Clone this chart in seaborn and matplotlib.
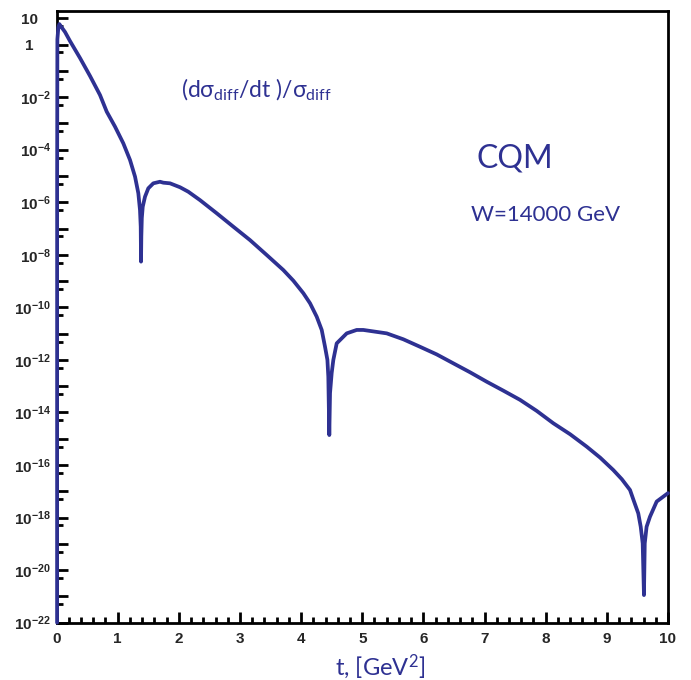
import numpy as np
import pandas as pd
import seaborn as sns
import matplotlib
matplotlib.use("Agg")
import matplotlib.pyplot as plt
from matplotlib.ticker import FixedLocator, FixedFormatter

# ---- data ----
t_values = [0.009, 0.010, 0.014, 0.03, 0.046, 0.07, 0.139, 0.22, 0.384, 0.548, 0.711,
            0.821, 0.957, 1.092, 1.202, 1.284, 1.338, 1.365, 1.377, 1.382,
            1.387, 1.395, 1.410, 1.447, 1.501, 1.583, 1.692, 1.747, 1.856, 2.020,
            2.155, 2.347, 2.620, 2.891, 3.164, 3.437, 3.709, 3.873, 4.036, 4.146,
            4.255, 4.337, 4.391, 4.43, 4.445, 4.461,
            4.473, 4.50, 4.527, 4.582, 4.69, 4.746, 4.909, 5.017, 5.40, 5.671, 5.944,
            6.217, 6.489, 6.762, 7.035, 7.307, 7.58, 7.853, 8.124, 8.40, 8.67, 8.891,
            9.105, 9.245, 9.379, 9.436, 9.514, 9.554, 9.586,
            9.607, 9.62, 9.65, 9.705, 9.815, 10.0]
log10_dsigma = [-22.0, -5.0, 0.2, 0.65, 0.78, 0.70, 0.479, 0.136, -0.511, -1.196, -1.919,
                -2.554, -3.125, -3.757, -4.393, -5.027, -5.659, -6.295, -6.93, -8.26,
                -7.3, -6.6, -6.17, -5.79, -5.47, -5.28, -5.22, -5.256, -5.28, -5.43,
                -5.60, -5.92, -6.42, -6.93, -7.44, -8.007, -8.58, -8.985, -9.46, -9.845,
                -10.355, -10.86, -11.50, -12.0, -12.64, -14.86,
                -13.26, -12.5, -12.0, -11.37, -11.12, -10.99, -10.86, -10.86, -10.99, -11.215, -11.50,
                -11.79, -12.13, -12.47, -12.83, -13.17, -13.52, -13.94, -14.41, -14.83, -15.30, -15.72,
                -16.19, -16.54, -16.95, -17.33, -17.84, -18.35, -18.98,
                -20.95, -18.98, -18.35, -17.97, -17.39, -17.07]
xtick_labels = ["0", "1", "2", "3", "4", "5", "6", "7", "8", "9", "10"]

df = pd.DataFrame({"t": t_values, "y": np.power(10.0, log10_dsigma)})

sns.set_style("white")
plt.rcParams["mathtext.default"] = "regular"
plt.rcParams["font.family"] = ["Liberation Sans", "DejaVu Sans"]

blue = "#2e3192"
fig = plt.figure(figsize=(6.91, 6.80), dpi=100)
ax = fig.add_axes([0.0818, 0.0843, 0.9667 - 0.0818, 0.9843 - 0.0843])

sns.lineplot(data=df, x="t", y="y", ax=ax, color=blue, lw=2.7,
             sort=False, estimator=None, zorder=3, clip_on=False)
ax.set_yscale("log")
ax.set_xlim(0, 10)
ax.set_ylim(1e-22, 10 ** 1.29)

# y ticks
major_y = [10.0 ** e for e in range(-22, 2)]
ylabels = []
for e in range(-22, 2):
    if e == 1:
        ylabels.append("10   ")
    elif e == 0:
        ylabels.append("1    ")
    elif e % 2 == 0:
        ylabels.append(r"$10^{%d}$" % e)
    else:
        ylabels.append("")
ax.yaxis.set_major_locator(FixedLocator(major_y))
ax.yaxis.set_major_formatter(FixedFormatter(ylabels))
ax.yaxis.set_minor_locator(FixedLocator([0.5 * 10.0 ** e for e in range(-21, 2)]))
ax.yaxis.set_minor_formatter(FixedFormatter([]))

# x ticks
ax.xaxis.set_major_locator(FixedLocator(list(range(0, 11))))
ax.xaxis.set_major_formatter(FixedFormatter(xtick_labels))
ax.xaxis.set_minor_locator(FixedLocator(list(np.arange(0, 10.01, 0.2))))

ax.tick_params(axis="both", which="major", direction="in", length=8, width=2,
               color="black", labelsize=11)
ax.tick_params(axis="x", which="major", pad=7)
ax.tick_params(axis="y", which="major", pad=4)
ax.tick_params(axis="both", which="minor", direction="in", length=4.5, width=2,
               color="black")
ax.tick_params(axis="y", which="both", left=True, right=False)
ax.tick_params(axis="x", which="both", bottom=True, top=False)
for lab in ax.get_xticklabels() + ax.get_yticklabels():
    lab.set_fontweight("bold")

for s in ax.spines.values():
    s.set_visible(True)
    s.set_color("black")
    s.set_linewidth(2)

ax.set_xlabel("")
ax.set_ylabel("")

txt = dict(family=["Lato", "DejaVu Sans"], fontweight="normal", color=blue)
fig.text(380 / 691, 1 - 667 / 680, r"t, [GeV$^2$]", ha="center", va="center",
         fontsize=17, **txt)
fig.text(181 / 691, 1 - 90 / 680, r"(d$\sigma_{diff}$/dt )/$\sigma_{diff}$",
         ha="left", va="center", fontsize=16.5, **txt)
fig.text(477 / 691, 1 - 158 / 680, "CQM", ha="left", va="center",
         fontsize=23, **txt)
fig.text(471 / 691, 1 - 215 / 680, "W=14000 GeV", ha="left", va="center",
         fontsize=16, **txt)

fig.savefig("out.png", dpi=100)
